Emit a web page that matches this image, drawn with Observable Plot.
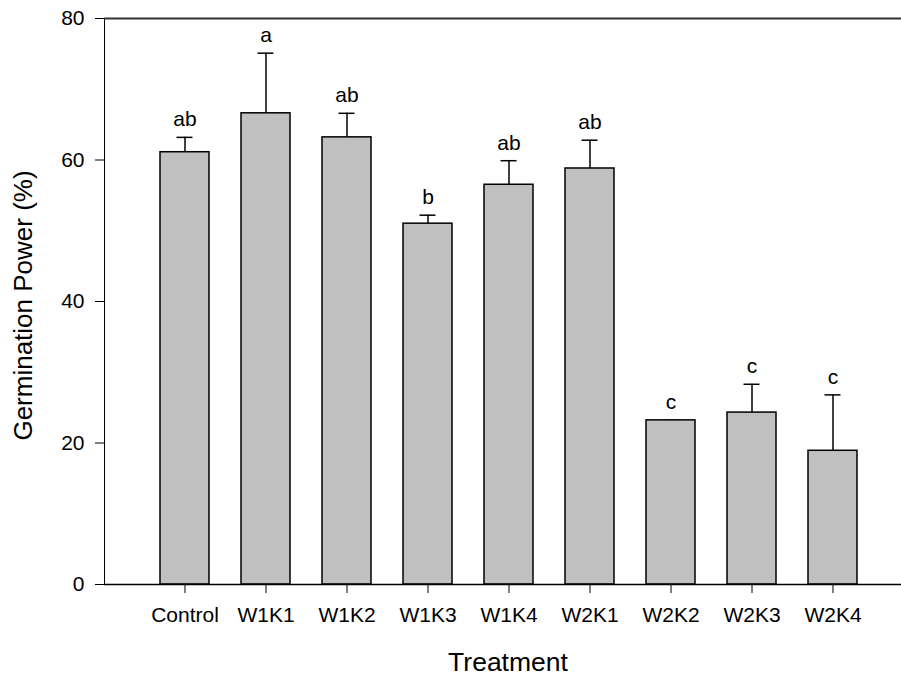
<!DOCTYPE html>
<html>
<head>
<meta charset="utf-8">
<script src="https://cdn.jsdelivr.net/npm/d3@7"></script>
<script src="https://cdn.jsdelivr.net/npm/@observablehq/plot@0.6"></script>
<style>
  html, body { margin: 0; padding: 0; background: white; }
</style>
</head>
<body>
<div id="chart"></div>
<script>
const treatments = ["Control", "W1K1", "W1K2", "W1K3", "W1K4", "W2K1", "W2K2", "W2K3", "W2K4"];
const means      = [61.1, 66.6, 63.2, 51.0, 56.5, 58.8, 23.2, 24.3, 18.9];
const errors     = [2.1, 8.5, 3.4, 1.2, 3.4, 4.0, 0.0, 4.0, 7.9];
const letters    = ["ab", "a", "ab", "b", "ab", "ab", "c", "c", "c"];
const yTicks     = [0, 20, 40, 60, 80];

const data = treatments.map((t, i) => ({
  name: t, mean: means[i], upper: means[i] + errors[i], letter: letters[i]
}));

const chart = Plot.plot({
  width: 901,
  height: 677,
  marginLeft: 104,
  marginRight: 0,
  marginTop: 18,
  marginBottom: 93,
  style: {fontFamily: "'Liberation Sans', Arial, sans-serif", fontSize: "21px", background: "white", color: "black"},
  x: {domain: treatments, range: [144, 873], paddingInner: 0.395, paddingOuter: 0.1975, align: 0.5,
      label: null, tickSize: 9, tickPadding: 14},
  y: {domain: [0, 80], ticks: yTicks, tickSize: 9, tickPadding: 11, label: null, line: true},
  marks: [
    Plot.ruleY([80], {stroke: "#333", strokeWidth: 2}),
    Plot.ruleX(data, {x: "name", y1: "mean", y2: "upper", stroke: "black", strokeWidth: 1.5}),
    Plot.tickY(data, {x: "name", y: "upper", stroke: "black", strokeWidth: 1.5, insetLeft: 16.5, insetRight: 16.5}),
    Plot.barY(data, {x: "name", y: "mean", fill: "#c0c0c0", stroke: "black", strokeWidth: 1.5}),
    Plot.ruleY([0], {stroke: "black", strokeWidth: 1.5}),
    Plot.text(data, {x: "name", y: "upper", text: "letter", lineAnchor: "bottom", dy: -11, fontSize: 21, fill: "black"}),
    Plot.text(["Treatment"], {frameAnchor: "bottom", textAnchor: "middle", lineAnchor: "middle", dy: 78, dx: 5, fontSize: 26.5, fill: "black"}),
    Plot.text(["Germination Power (%)"], {frameAnchor: "left", textAnchor: "middle", lineAnchor: "middle", dx: -81, dy: 4, rotate: -90, fontSize: 26, fill: "black"})
  ]
});
document.getElementById("chart").appendChild(chart);
</script>
</body>
</html>
